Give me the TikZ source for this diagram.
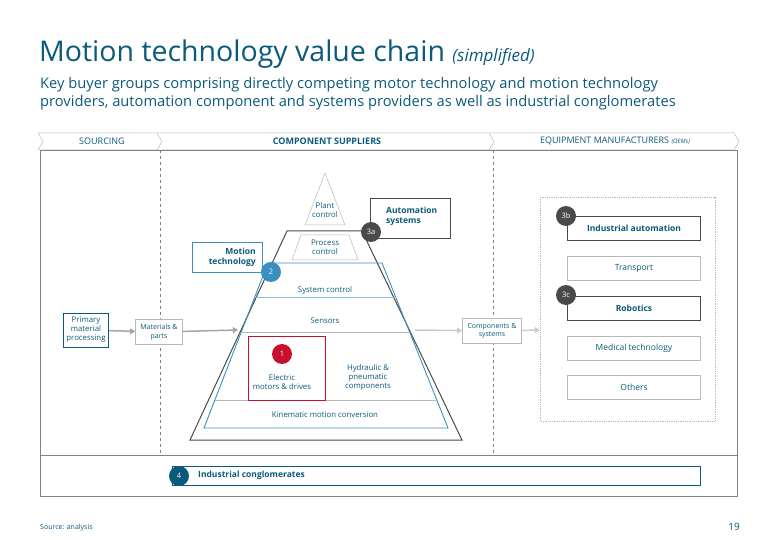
\documentclass[tikz,border=0pt]{standalone}
\usepackage{fontspec}
\setmainfont{Open Sans}
\usetikzlibrary{arrows.meta}
\definecolor{teal}{HTML}{0B5A7A}
\definecolor{lblue}{HTML}{3A8FC1}
\definecolor{dred}{HTML}{C8102E}
\definecolor{dgray}{HTML}{4A4A4A}
\definecolor{lgray}{HTML}{B8B8B8}
\tikzset{
  txt/.style={text=teal,font=\fontsize{8.5}{10}\selectfont,align=center,inner sep=0},
  lbox/.style={draw=lgray,line width=0.6pt,fill=white,txt},
  dbox/.style={draw=teal,line width=0.8pt,fill=white,txt,font=\fontsize{8.5}{10}\selectfont\bfseries},
  num/.style={circle,fill=#1,text=white,font=\fontsize{7.5}{7.5}\selectfont,inner sep=0,minimum size=20pt},
  chev/.style={draw=lgray,line width=0.5pt},
  arr/.style={draw=gray!70,line width=1.5pt,-{Triangle[length=5pt,width=6pt]}},
  sm/.style={font=\fontsize{7.8}{9}\selectfont},
}
\begin{document}
\begin{tikzpicture}[x=1pt,y=-1pt]
\useasboundingbox (0,0) rectangle (780,540);
% title
\node[anchor=base west,inner sep=0,text=teal,font=\fontsize{28.5}{32}\selectfont] (title) at (39,62) {Motion technology value chain {\fontsize{17}{20}\selectfont\itshape (simplified)}};
\node[anchor=north west,inner sep=0,text=teal,align=left,font=\fontsize{14.7}{18.5}\selectfont] (sub) at (40,77) {Key buyer groups comprising directly competing motor technology and motion technology\\providers, automation component and systems providers as well as industrial conglomerates};
% header chevrons
\draw[chev] (38,133) -- (157,133) -- (162,141.5) -- (157,150) -- (38,150) -- (43,141.5) -- cycle;
\draw[chev] (157,133) -- (489,133) -- (494,141.5) -- (489,150) -- (157,150);
\draw[chev] (489,133) -- (734,133) -- (739,141.5) -- (734,150) -- (489,150);
\node[txt,font=\fontsize{9}{10}\selectfont] (h1) at (102,141.5) {SOURCING};
\node[txt,font=\fontsize{9}{10}\selectfont\bfseries] (h2) at (327,141.5) {COMPONENT SUPPLIERS};
\node[txt,font=\fontsize{9}{10}\selectfont] (h3) at (615,141.5) {EQUIPMENT MANUFACTURERS {\fontsize{6}{7}\selectfont\itshape (OEMs)}};
% frame
\draw[lgray!70!black,line width=0.6pt] (40,150) rectangle (737,496);
\draw[lgray!70!black,line width=0.6pt] (40,455) -- (737,455);
\draw[dashed,gray,line width=0.5pt] (160,150) -- (160,455);
\draw[dashed,gray,line width=0.5pt] (493,150) -- (493,455);
% arrows
\node[lbox,draw=teal,sm,minimum width=45pt,minimum height=34pt] (pmp) at (86,330) {Primary\\material\\processing};
\node[lbox,minimum width=47pt,minimum height=25pt,font=\fontsize{7}{8.5}\selectfont] (mat) at (159,332) {Materials \&\\parts};
\coordinate (pl) at (238,330);
\coordinate (pr) at (415,330);
\coordinate (dbl) at (540,330);
\draw[arr] (pmp) -- (mat);
\draw[arr] (mat) -- (pl);
\node[lbox,minimum width=59pt,minimum height=25pt,font=\fontsize{7}{8.5}\selectfont] (cs) at (492,331) {Components \&\\systems};
\draw[arr,draw=gray!40] (pr) -- (cs);
\draw[arr,draw=gray!40] (cs) -- (dbl);
% pyramid
\fill[white] (287,231) -- (362,231) -- (462,440) -- (190,440) -- cycle;
\draw[line width=1pt,dgray] (287,231) -- (362,231) -- (462,440) -- (190,440) -- cycle;
\draw[lgray,line width=0.5pt] (325,173) -- (345,225) -- (305,225) -- cycle;
\node[txt,sm] (plant) at (325,210) {Plant\\control};
\draw[lgray,line width=0.5pt] (301,235) -- (349,235) -- (358,260) -- (292,260) -- cycle;
\node[txt,sm] (proc) at (325,247) {Process\\control};
\draw[lblue,line width=0.9pt] (268,263) -- (382,263) -- (448,428) -- (204,428) -- cycle;
\draw[lblue!60,line width=0.6pt] (255,297) -- (396,297);
\draw[lgray,line width=0.6pt] (241,332) -- (410,332);
\draw[lgray,line width=0.6pt] (215,400) -- (437,400);
\node[txt,sm] (sysc) at (325,290) {System control};
\node[txt,sm] (sens) at (325,321) {Sensors};
\draw[dred,line width=0.8pt] (248,336) rectangle (325,400);
\node[num=dred] (n1) at (282,354) {1};
\node[txt,sm] (elec) at (282,382) {Electric\\motors \& drives};
\node[txt,sm] (hyd) at (368,377) {Hydraulic \&\\pneumatic\\components};
\node[txt,sm] (kin) at (325,415) {Kinematic motion conversion};
% motion technology
\draw[lblue,line width=0.6pt,fill=white] (192,242) rectangle (262,272);
\node[txt,font=\fontsize{8.5}{10}\selectfont\bfseries,align=right,anchor=east] (mt) at (256,257) {Motion\\technology};
\node[num=lblue] (n2) at (271,272) {2};
% automation systems
\draw[dgray,line width=0.8pt,fill=white] (370,198) rectangle (450,238);
\node[txt,font=\fontsize{8.5}{10}\selectfont\bfseries,align=left,anchor=west] (as) at (386,216) {Automation\\systems};
\node[num=dgray] (n3a) at (371,232) {3a};
% right group
\draw[densely dotted,lgray,line width=0.8pt] (540,197) rectangle (715,421);
\node[dbox,draw=dgray,minimum width=133pt,minimum height=24pt] (ia) at (634,228) {Industrial automation};
\node[num=dgray] (n3b) at (566,216) {3b};
\node[lbox,minimum width=133pt,minimum height=24pt] (tr) at (634,268) {Transport};
\node[dbox,draw=dgray,minimum width=133pt,minimum height=24pt] (rob) at (634,308) {Robotics};
\node[num=dgray] (n3c) at (566,295) {3c};
\node[lbox,minimum width=133pt,minimum height=24pt] (med) at (634,348) {Medical technology};
\node[lbox,minimum width=133pt,minimum height=24pt] (oth) at (634,387) {Others};
% conglomerates
\draw[teal,line width=0.8pt] (172,466) rectangle (700,485);
\node[txt,font=\fontsize{8.5}{10}\selectfont\bfseries,anchor=west] (ic) at (198,475.5) {Industrial conglomerates};
\node[num=teal] (n4) at (179,476) {4};
% footer
\node[txt,font=\fontsize{7}{8}\selectfont,anchor=west] (src) at (40,528) {Source: analysis};
\node[txt,font=\fontsize{10}{11}\selectfont,anchor=east] (pg) at (740,527) {19};
\end{tikzpicture}
\end{document}
